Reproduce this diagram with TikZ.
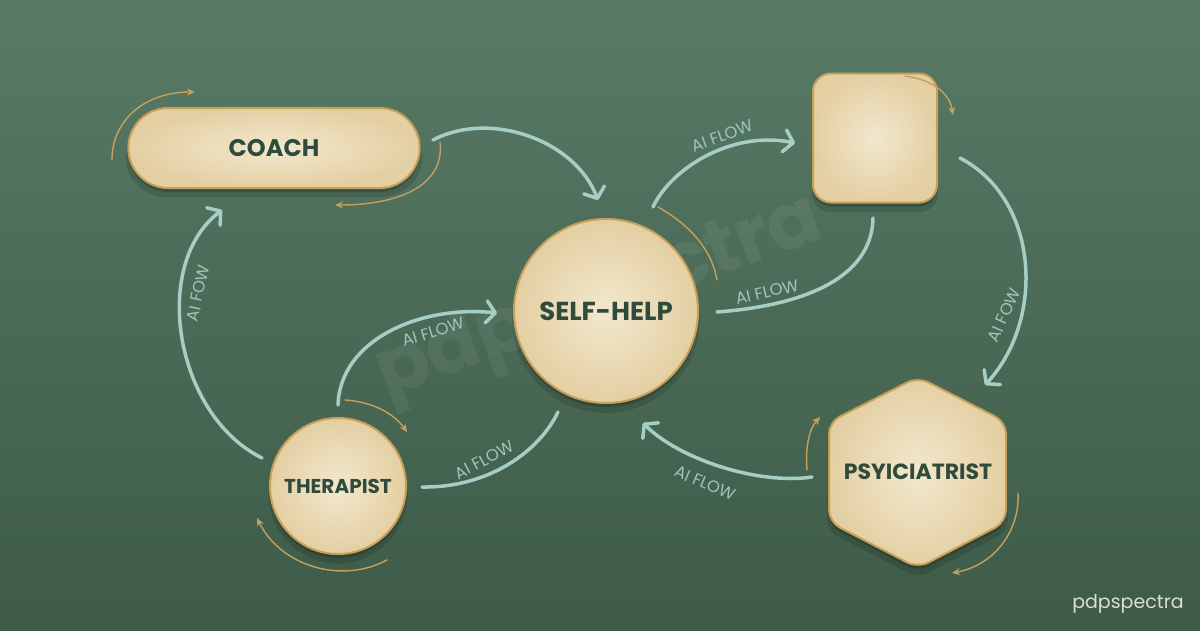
\documentclass[tikz,border=0pt]{standalone}
\usepackage{fontspec}
\setmainfont{Poppins}
\usetikzlibrary{arrows.meta,shadows,calc,shapes.misc}
\definecolor{bgtop}{HTML}{587A66}
\definecolor{bgbot}{HTML}{3D5B48}
\definecolor{creamin}{HTML}{F2E8CE}
\definecolor{creamout}{HTML}{E4CFA2}
\definecolor{goldline}{HTML}{C8A05A}
\definecolor{inkgreen}{HTML}{2E4B3B}
\definecolor{flowc}{HTML}{A5CFC4}
\definecolor{flowlbl}{HTML}{9FC6BA}
\definecolor{brandc}{HTML}{DCDFCC}
\begin{document}
\begin{tikzpicture}[x=1pt,y=-1pt,
  nodebox/.style={draw=goldline, line width=2pt, inner color=creamin, outer color=creamout,
    text=inkgreen,
    drop shadow={shadow xshift=0pt, shadow yshift=-8pt, opacity=0.12, fill=black, shadow scale=1.02},
    drop shadow={shadow xshift=0pt, shadow yshift=-4pt, opacity=0.18, fill=black}},
  flow/.style={draw=flowc, line width=3.5pt, line cap=round},
  flowarrow/.style={flow, -{Straight Barb[length=9pt,width=22pt,round]}},
  flowlabel/.style={text=flowlbl, font=\fontsize{16.5}{19}\selectfont, inner sep=0pt},
  deco/.style={draw=goldline, line width=1.4pt, line cap=round},
  decoarrow/.style={deco, -{Stealth[length=8pt,width=7pt]}},
  bigtext/.style={font=\bfseries\fontsize{#1}{#1}\selectfont},
]
\useasboundingbox (0,0) rectangle (1200,630);
\shade[top color=bgtop, bottom color=bgbot] (0,0) rectangle (1200,630);

% watermark
\node[rotate=20, text=white, text opacity=0.06, bigtext=78] (wm) at (600,300) {pdpspectra};

% nodes
\node[nodebox, rounded rectangle, minimum width=298pt, minimum height=80pt, bigtext=24] (coach) at (274,148) {COACH};
\node[nodebox, rectangle, rounded corners=18pt, minimum width=124pt, minimum height=129pt] (sq) at (875,138) {};
\node[nodebox, circle, minimum size=184pt, inner sep=0pt, bigtext=26] (sh) at (606,311) {SELF-HELP};
\node[nodebox, circle, minimum size=136pt, inner sep=0pt, bigtext=20] (th) at (338,486) {THERAPIST};
\path[nodebox, rounded corners=12pt] (918,377) -- (1006,422) -- (1006,522) -- (918,568) -- (829,522) -- (829,422) -- cycle;
\node[text=inkgreen, bigtext=22] (psy) at (918,472) {PSYICIATRIST};

% connectors
\draw[flowarrow] ($(coach)+(159,-8)$) .. controls (490,110) and (575,140) .. ($(sh)+(-8,-111)$);
\draw[flowarrow] ($(sh)+(47,-104)$) .. controls (670,170) and (730,130) .. ($(sq)+(-80,5)$);
\draw[flow] ($(sq)+(-2,80)$) .. controls (872,275) and (810,305) .. ($(sh)+(111,1)$);
\draw[flowarrow] ($(sq)+(85,20)$) .. controls (1040,200) and (1045,320) .. ($(psy)+(67,-87)$);
\draw[flowarrow] ($(psy)+(-106,5)$) .. controls (760,485) and (680,460) .. ($(sh)+(37,112)$);
\draw[flow] ($(th)+(84,1)$) .. controls (490,488) and (540,450) .. ($(sh)+(-48,101)$);
\draw[flowarrow] ($(th)+(0,-81)$) .. controls (340,340) and (420,305) .. ($(sh)+(-109,2)$);
\draw[flowarrow] ($(th)+(-76,-28)$) .. controls (175,415) and (150,265) .. ($(coach)+(-52,62)$);

% labels
\node[flowlabel, rotate=20] (l1) at (722,136) {AI FLOW};
\node[flowlabel, rotate=13] (l2) at (767,292) {AI FLOW};
\node[flowlabel, rotate=66] (l3) at (1004,315) {AI FOW};
\node[flowlabel, rotate=-23] (l4) at (705,483) {AI FLOW};
\node[flowlabel, rotate=28] (l5) at (484,460) {AI FLOW};
\node[flowlabel, rotate=17] (l6) at (433,332) {AI FLOW};
\node[flowlabel, rotate=78] (l7) at (198,293) {AI FOW};

% decorative gold arcs
\draw[decoarrow] (112,160) .. controls (112,120) and (145,92) .. (195,92);
\draw[decoarrow] (440,142) .. controls (445,185) and (400,205) .. (335,205);
\draw[deco] (658,207) .. controls (690,225) and (712,250) .. (717,280);
\draw[decoarrow] (905,76) .. controls (935,80) and (950,95) .. (953,115);
\draw[decoarrow] (345,400) .. controls (375,402) and (395,415) .. (407,432);
\draw[decoarrow] (387,560) .. controls (340,585) and (280,565) .. (257,518);
\draw[decoarrow] (807,470) .. controls (805,445) and (810,428) .. (820,417);
\draw[decoarrow] (1018,493) .. controls (1020,530) and (995,565) .. (952,573);

% brand
\node[text=brandc, font=\fontsize{19}{22}\selectfont, inner sep=0pt] (brand) at (1128,604) {pdpspectra};
\end{tikzpicture}
\end{document}
